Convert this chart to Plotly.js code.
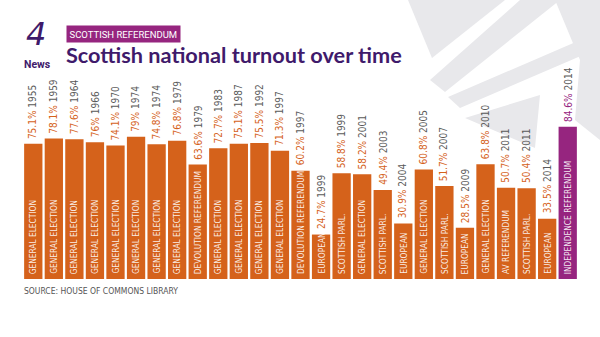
<!DOCTYPE html>
<html><head><meta charset="utf-8">
<script src="https://cdn.plot.ly/plotly-3.0.1.min.js"></script>
<style>html,body{margin:0;padding:0;background:#fff}#chart{width:600px;height:337px}</style>
</head><body><div id="chart"></div>
<script>
const years = ['1955','1959','1964','1966','1970','1974','1974','1979','1979','1983','1987','1992','1997','1997','1999','1999','2001','2003','2004','2005','2007','2009','2010','2011','2011','2014','2014'];
const turnout = [75.1,78.1,77.6,76,74.1,79,74.8,76.8,63.6,72.7,75.1,75.5,71.3,60.2,24.7,58.8,58.2,49.4,30.9,60.8,51.7,28.5,63.8,50.7,50.4,33.5,84.6];
const pollType = ['GENERAL ELECTION','GENERAL ELECTION','GENERAL ELECTION','GENERAL ELECTION','GENERAL ELECTION','GENERAL ELECTION','GENERAL ELECTION','GENERAL ELECTION','DEVOLUTION REFERENDUM','GENERAL ELECTION','GENERAL ELECTION','GENERAL ELECTION','GENERAL ELECTION','DEVOLUTION REFERENDUM','EUROPEAN','SCOTTISH PARL.','GENERAL ELECTION','SCOTTISH PARL.','EUROPEAN','GENERAL ELECTION','SCOTTISH PARL.','EUROPEAN','GENERAL ELECTION','AV REFERENDUM','SCOTTISH PARL.','EUROPEAN','INDEPENDENCE REFERENDUM'];
const highlight = 'INDEPENDENCE REFERENDUM';

const ORANGE = '#d5621b', PURPLE = '#96257f', GREY = '#5a5a5a', DARK = '#3f1a6b';
const W = 600, H = 337, M = {l:23, r:22, t:99, b:58};
const pw = W - M.l - M.r, ph = H - M.t - M.b;
const px = x => (x - M.l) / pw;
const py = y => (H - M.b - y) / ph;
const path = pts => 'M' + pts.map(p => px(p[0]).toFixed(4) + ',' + py(p[1]).toFixed(4)).join(' L') + ' Z';

const idx = turnout.map((_, i) => i);
const colors = pollType.map(t => t === highlight ? PURPLE : ORANGE);
const LABFONT = '"DejaVu Sans Condensed","Liberation Sans Narrow","Roboto Condensed",Roboto,sans-serif';

const annotations = [];
idx.forEach(i => {
  const pc = pollType[i] === highlight ? PURPLE : ORANGE;
  annotations.push({
    x: i, y: turnout[i], xref: 'x', yref: 'y', showarrow: false,
    textangle: -90, xanchor: 'center', yanchor: 'bottom', yshift: 3,
    text: '<span style="color:' + pc + '">' + turnout[i] + '%</span> <span style="color:' + GREY + '">' + years[i] + '</span>',
    font: {family: LABFONT, size: 10}
  });
  annotations.push({
    x: i, y: 0, xref: 'x', yref: 'y', showarrow: false,
    textangle: -90, xanchor: 'center', yanchor: 'bottom', yshift: 3,
    text: pollType[i], font: {family: LABFONT, size: 8.3, color: 'rgba(255,255,255,0.9)'}
  });
});
annotations.push(
  {xref:'paper', yref:'paper', x: px(66), y: py(34), xanchor:'left', yanchor:'middle', showarrow:false,
   text:'SCOTTISH REFERENDUM', bgcolor: PURPLE, borderpad: 2.5,
   font:{family:'Roboto, sans-serif', size:9.5, color:'#fff'}},
  {xref:'paper', yref:'paper', x: px(64), y: py(55), xanchor:'left', yanchor:'middle', showarrow:false,
   text:'<b>Scottish national turnout over time</b>',
   font:{family:'Lato, "Open Sans", sans-serif', size:21.7, color: DARK}},
  {xref:'paper', yref:'paper', x: px(22), y: py(64), xanchor:'left', yanchor:'middle', showarrow:false,
   text:'<b>News</b>', font:{family:'Roboto, sans-serif', size:10.5, color: DARK}},
  {xref:'paper', yref:'paper', x: px(36), y: py(34), xanchor:'center', yanchor:'middle', showarrow:false,
   text:'<i>4</i>', font:{family:'"DejaVu Sans", sans-serif', size:32, color: DARK}},
  {xref:'paper', yref:'paper', x: px(22), y: py(291), xanchor:'left', yanchor:'middle', showarrow:false,
   text:'SOURCE: HOUSE OF COMMONS LIBRARY', font:{family: LABFONT, size:8.5, color:'#555'}}
);

const WM = '#e8e8eb';
const shapes = [
  [[408,0],[505,0],[432,58]],
  [[520,0],[560,0],[445,92],[430,80]],
  [[448,97],[585,38],[590,52],[460,108]],
  [[465,118],[540,95],[535,148]],
  [[555,0],[600,0],[600,140],[575,120],[580,60]]
].map(p => ({type:'path', xref:'paper', yref:'paper', path: path(p), fillcolor: WM, line:{width:0}, layer:'below'}));

const trace = {
  type: 'bar', x: idx, y: turnout, marker: {color: colors, line: {width: 0}},
  hoverinfo: 'skip', cliponaxis: false
};

Plotly.newPlot('chart', [trace], {
  width: W, height: H, margin: M, paper_bgcolor: '#fff', plot_bgcolor: 'rgba(0,0,0,0)',
  bargap: 0.11, showlegend: false,
  xaxis: {range: [-0.5, turnout.length - 0.5], visible: false, fixedrange: true},
  yaxis: {range: [0, 100], visible: false, fixedrange: true},
  annotations, shapes
}, {staticPlot: true});
</script></body></html>
